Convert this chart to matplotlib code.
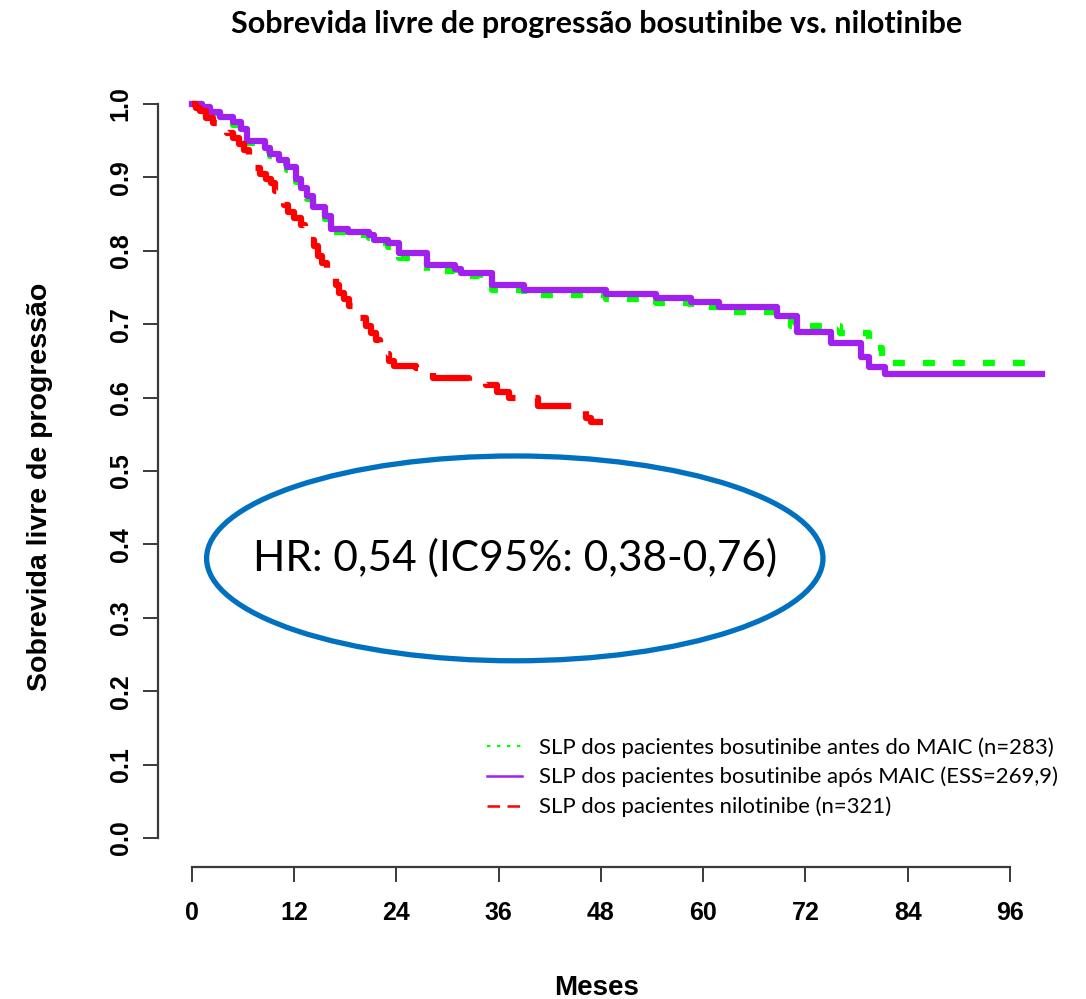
import matplotlib
matplotlib.use("Agg")
import matplotlib.pyplot as plt
from matplotlib.lines import Line2D
from matplotlib.patches import Ellipse

# Kaplan-Meier step data (months, progression-free survival)
bos_pre_t = [0, 1.2, 2.2, 3.3, 4.8, 5.8, 6.5, 8.6, 9.2, 10.3, 11.2, 12.2, 12.8, 13.5,
             14.2, 15.6, 16.4, 18.3, 20.8, 21.4, 23.0, 24.3, 27.6, 30.9, 33.8, 35.2,
             39.0, 48.6, 54.5, 58.6, 61.8, 70.3, 76.0, 79.4, 81.0, 99.7]
bos_pre_s = [1.0, 0.995, 0.988, 0.980, 0.972, 0.963, 0.947, 0.937, 0.929, 0.920, 0.910,
             0.894, 0.882, 0.870, 0.855, 0.843, 0.826, 0.822, 0.818, 0.811, 0.805, 0.790,
             0.772, 0.765, 0.757, 0.746, 0.740, 0.735, 0.729, 0.723, 0.716, 0.697, 0.688,
             0.667, 0.647, 0.647]

bos_post_t = [0, 1.2, 2.2, 3.3, 4.8, 5.8, 6.5, 8.6, 9.2, 10.3, 11.2, 12.2, 12.8, 13.5,
              14.2, 15.6, 16.4, 18.3, 20.8, 21.4, 23.0, 24.3, 27.6, 30.9, 31.6, 35.2,
              39.0, 48.6, 54.5, 58.6, 61.8, 68.7, 71.0, 75.0, 78.5, 79.4, 81.3, 99.7]
bos_post_s = [1.0, 0.996, 0.989, 0.982, 0.975, 0.966, 0.950, 0.940, 0.932, 0.924, 0.914,
              0.898, 0.886, 0.875, 0.860, 0.848, 0.830, 0.826, 0.822, 0.815, 0.810, 0.797,
              0.781, 0.775, 0.770, 0.753, 0.746, 0.741, 0.736, 0.730, 0.723, 0.711, 0.689,
              0.674, 0.655, 0.642, 0.632, 0.632]

nilo_t = [0, 0.5, 1.0, 1.7, 2.5, 3.3, 4.2, 4.9, 5.6, 6.1, 6.7, 7.2, 8.0, 8.7, 9.3, 9.8,
          10.3, 10.8, 11.3, 12.0, 12.8, 13.3, 13.8, 14.3, 14.8, 15.3, 15.9, 16.4, 16.9,
          17.3, 17.9, 18.5, 19.2, 19.8, 20.4, 21.0, 21.6, 22.1, 22.7, 23.2, 23.7, 26.3,
          28.3, 32.5, 34.5, 35.8, 37.2, 40.6, 45.2, 46.3, 46.8, 48.3]
nilo_s = [1.0, 0.995, 0.990, 0.981, 0.974, 0.967, 0.960, 0.953, 0.945, 0.937, 0.925,
          0.913, 0.905, 0.898, 0.893, 0.882, 0.872, 0.862, 0.853, 0.845, 0.835, 0.825,
          0.815, 0.806, 0.793, 0.784, 0.776, 0.769, 0.753, 0.742, 0.734, 0.725, 0.717,
          0.708, 0.698, 0.688, 0.679, 0.668, 0.660, 0.650, 0.643, 0.640, 0.627, 0.623,
          0.617, 0.608, 0.600, 0.588, 0.583, 0.572, 0.567, 0.567]

x_ticks = [0, 12, 24, 36, 48, 60, 72, 84, 96]
y_ticks = [0.0, 0.1, 0.2, 0.3, 0.4, 0.5, 0.6, 0.7, 0.8, 0.9, 1.0]

legend_labels = ["SLP dos pacientes bosutinibe antes do MAIC (n=283)",
                 "SLP dos pacientes bosutinibe após MAIC (ESS=269,9)",
                 "SLP dos pacientes nilotinibe (n=321)"]
hr_text = "HR: 0,54 (IC95%: 0,38-0,76)"

GREEN = "#00FF00"
PURPLE = "#A020F0"
RED = "#FF0000"
BLUE = "#0070C0"
AXIS = "#3a3a3a"

arial_bold = dict(family=["Liberation Sans", "DejaVu Sans"], weight="bold")
body_font = ["Lato", "DejaVu Sans"]

fig = plt.figure(figsize=(10.86, 9.99), dpi=100)
ax = fig.add_axes([0.1451, 0.1317, 0.8478, 0.7936])
ax.set_xlim(-4, 104)
ax.set_ylim(-0.04, 1.04)

lw = 4.5
ax.step(bos_pre_t, bos_pre_s, where="post", color=GREEN, lw=lw,
        linestyle=(0, (1.9, 2.9)), zorder=2)
ax.step(bos_post_t, bos_post_s, where="post", color=PURPLE, lw=lw, zorder=3)
ax.step(nilo_t, nilo_s, where="post", color=RED, lw=lw,
        linestyle=(0, (7.0, 3.2)), zorder=3)

# R-style detached axes
for side in ("top", "right"):
    ax.spines[side].set_visible(False)
ax.spines["left"].set_bounds(0, 1)
ax.spines["bottom"].set_bounds(0, 96)
for side in ("left", "bottom"):
    ax.spines[side].set_color(AXIS)
    ax.spines[side].set_linewidth(1.6)
ax.tick_params(axis="both", direction="out", length=11, width=1.4, color=AXIS)
ax.tick_params(axis="x", pad=13)
ax.tick_params(axis="y", pad=7)

ax.set_xticks(x_ticks)
ax.set_xticklabels([str(v) for v in x_ticks], fontsize=18, **arial_bold)
ax.set_yticks(y_ticks)
ax.set_yticklabels([f"{v:.1f}" for v in y_ticks], fontsize=18, rotation=90,
                   va="center", **arial_bold)

fig.text(0.5497, 1 - 988 / 999, "Meses", ha="center", va="center",
         fontsize=20, **arial_bold)
fig.text(40 / 1086, 1 - 487 / 999, "Sobrevida livre de progressão", ha="center",
         va="center", rotation=90, fontsize=20.5, **arial_bold)
fig.text(597 / 1086, 1 - 24 / 999, "Sobrevida livre de progressão bosutinibe vs. nilotinibe",
         ha="center", va="center", fontsize=22, family=body_font, weight="bold")

# Hazard-ratio callout
ax.add_patch(Ellipse((37.9, 0.381), 72.3, 0.279, fill=False, edgecolor=BLUE,
                     lw=3.8, zorder=4))
ax.text(37.9, 0.381, hr_text, ha="center", va="center", fontsize=30.5,
        family=body_font, zorder=5)

handles = [
    Line2D([], [], color=GREEN, lw=1.6, linestyle=(0, (1.5, 3))),
    Line2D([], [], color=PURPLE, lw=1.8),
    Line2D([], [], color=RED, lw=1.8, linestyle=(0, (5, 3))),
]
ax.legend(handles, legend_labels, loc="upper left", frameon=False,
          bbox_to_anchor=(487 / 1086, 1 - 737 / 999), bbox_transform=fig.transFigure,
          borderaxespad=0, borderpad=0, handlelength=1.6, handletextpad=0.77,
          labelspacing=0.42, prop=dict(family=body_font, size=15.9))

fig.savefig("out.png", dpi=100)
